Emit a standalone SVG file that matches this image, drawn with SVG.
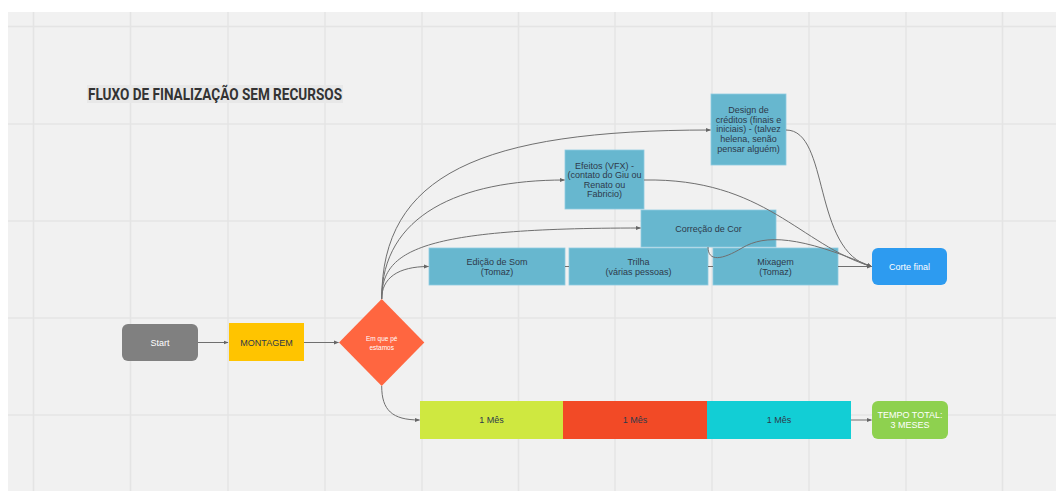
<svg xmlns="http://www.w3.org/2000/svg" width="1056" height="491" viewBox="0 0 1056 491">
<defs>
<marker id="arr" viewBox="0 0 10 10" refX="9" refY="5" markerWidth="5" markerHeight="5" orient="auto" markerUnits="userSpaceOnUse"><path d="M0,1 L10,5 L0,9 z" fill="#666"/></marker>
<style>
.grid{stroke:#e4e4e4;stroke-width:1.5}
.t{font-family:"Liberation Sans",Arial,sans-serif;font-size:9px;fill:#2e3a4b;text-anchor:middle}
.w{fill:#ffffff}
.blue{fill:#67b7cf;stroke:#8fcbe0;stroke-width:0.8}
.c{fill:none;stroke:#6f6f6f;stroke-width:1;marker-end:url(#arr)}
</style>
</defs>
<rect x="0" y="0" width="1056" height="491" fill="#ffffff"/>
<rect x="8" y="12" width="1048" height="479" fill="#f1f1f1"/>
<g id="grid">
<line class="grid" x1="33.5" y1="12" x2="33.5" y2="491"/>
<line class="grid" x1="130.5" y1="12" x2="130.5" y2="491"/>
<line class="grid" x1="228" y1="12" x2="228" y2="491"/>
<line class="grid" x1="325" y1="12" x2="325" y2="491"/>
<line class="grid" x1="422" y1="12" x2="422" y2="491"/>
<line class="grid" x1="518.5" y1="12" x2="518.5" y2="491"/>
<line class="grid" x1="615" y1="12" x2="615" y2="491"/>
<line class="grid" x1="712" y1="12" x2="712" y2="491"/>
<line class="grid" x1="809" y1="12" x2="809" y2="491"/>
<line class="grid" x1="906" y1="12" x2="906" y2="491"/>
<line class="grid" x1="1002.5" y1="12" x2="1002.5" y2="491"/>
<line class="grid" x1="8" y1="26.5" x2="1056" y2="26.5"/>
<line class="grid" x1="8" y1="124" x2="1056" y2="124"/>
<line class="grid" x1="8" y1="221" x2="1056" y2="221"/>
<line class="grid" x1="8" y1="318" x2="1056" y2="318"/>
<line class="grid" x1="8" y1="415" x2="1056" y2="415"/>
</g>
<g id="title">
<rect x="87" y="85" width="256" height="18" fill="#e8e8e8"/>
<text x="88" y="100" font-family="Roboto,'Liberation Sans',sans-serif" font-weight="bold" font-size="16" fill="#333333" textLength="254" lengthAdjust="spacingAndGlyphs">FLUXO DE FINALIZAÇÃO SEM RECURSOS</text>
</g>
<g id="start">
<rect x="122" y="324" width="76" height="37" rx="6" fill="#808080"/>
<text class="t w" x="160" y="345.5">Start</text>
</g>
<g id="montagem">
<rect x="229" y="323" width="75" height="38" fill="#ffc400"/>
<text class="t" x="266.5" y="345.5" fill="#333">MONTAGEM</text>
</g>
<g id="decisao">
<polygon points="381.7,299 424.3,342.5 381.7,386 339,342.5" fill="#ff6640"/>
<text class="t w" x="381.7" y="341" font-size="6.5" style="font-size:6.5px">Em que pé</text>
<text class="t w" x="381.7" y="349.5" style="font-size:6.5px">estamos</text>
</g>
<g id="design">
<rect class="blue" x="711" y="94" width="75" height="71"/>
<text class="t" x="748.5" y="113">Design de</text>
<text class="t" x="748.5" y="122.7">créditos (finais e</text>
<text class="t" x="748.5" y="132.4">iniciais) - (talvez</text>
<text class="t" x="748.5" y="142.1">helena, senão</text>
<text class="t" x="748.5" y="151.8">pensar alguém)</text>
</g>
<g id="efeitos">
<rect class="blue" x="565" y="150" width="79" height="59"/>
<text class="t" x="604.5" y="168.5">Efeitos (VFX) -</text>
<text class="t" x="604.5" y="178">(contato do Giu ou</text>
<text class="t" x="604.5" y="187.5">Renato ou</text>
<text class="t" x="604.5" y="197">Fabricio)</text>
</g>
<g id="correcao">
<rect class="blue" x="641" y="210" width="135" height="37"/>
<text class="t" x="708.5" y="231.5">Correção de Cor</text>
</g>
<g id="edicao">
<rect class="blue" x="429" y="248" width="136" height="37"/>
<text class="t" x="497" y="265">Edição de Som</text>
<text class="t" x="497" y="274.8">(Tomaz)</text>
</g>
<g id="trilha">
<rect class="blue" x="569" y="248" width="139" height="37"/>
<text class="t" x="638.5" y="265">Trilha</text>
<text class="t" x="638.5" y="274.8">(várias pessoas)</text>
</g>
<g id="mixagem">
<rect class="blue" x="713" y="248" width="125" height="37"/>
<text class="t" x="775.5" y="265">Mixagem</text>
<text class="t" x="775.5" y="274.8">(Tomaz)</text>
</g>
<g id="corte">
<rect x="872" y="248" width="75" height="37" rx="6" fill="#2d9bf0"/>
<text class="t w" x="909.5" y="269.5">Corte final</text>
</g>
<g id="mes1">
<rect x="420" y="401" width="143" height="38" fill="#cfe840"/>
<text class="t" x="491.5" y="423">1 Mês</text>
</g>
<g id="mes2">
<rect x="563" y="401" width="144" height="38" fill="#f24a26"/>
<text class="t" x="635" y="423">1 Mês</text>
</g>
<g id="mes3">
<rect x="707" y="401" width="144" height="38" fill="#12ced5"/>
<text class="t" x="779" y="423">1 Mês</text>
</g>
<g id="tempo">
<rect x="872" y="401" width="76" height="38" rx="6" fill="#8ed14f"/>
<text class="t w" x="910" y="418">TEMPO TOTAL:</text>
<text class="t w" x="910" y="427.5">3 MESES</text>
</g>
<g id="connectors">
<path class="c" d="M198,342.5 L228,342.5"/>
<path class="c" d="M304,342.5 L338.5,342.5"/>
<path class="c" d="M381.7,386 C381.7,410 392,420 419.5,420"/>
<path class="c" d="M851,420 L871.5,420"/>
<path class="c" d="M381.7,299 C381.7,278 398,266.5 428.5,266.5"/>
<path class="c" d="M381.7,299 C381.7,250 420,228 640.5,228"/>
<path class="c" d="M381.7,299 C381.7,215 460,180 564.5,180"/>
<path class="c" d="M381.7,299 C381.7,175 480,130 710.5,130"/>
<path fill="none" stroke="#6f6f6f" stroke-width="1" d="M565,266.5 L569,266.5"/>
<path fill="none" stroke="#6f6f6f" stroke-width="1" d="M708,266.5 L713,266.5"/>
<path class="c" d="M838,266.5 L871.5,266.5"/>
<path class="c" d="M708,247 C708,262 722,260 742,248 C765,234 800,236 871.5,266.5"/>
<path class="c" d="M644,180 C765,178 800,245 871.5,266.5"/>
<path class="c" d="M786,130 C830,130 812,252 871.5,266.5"/>
</g>
</svg>
